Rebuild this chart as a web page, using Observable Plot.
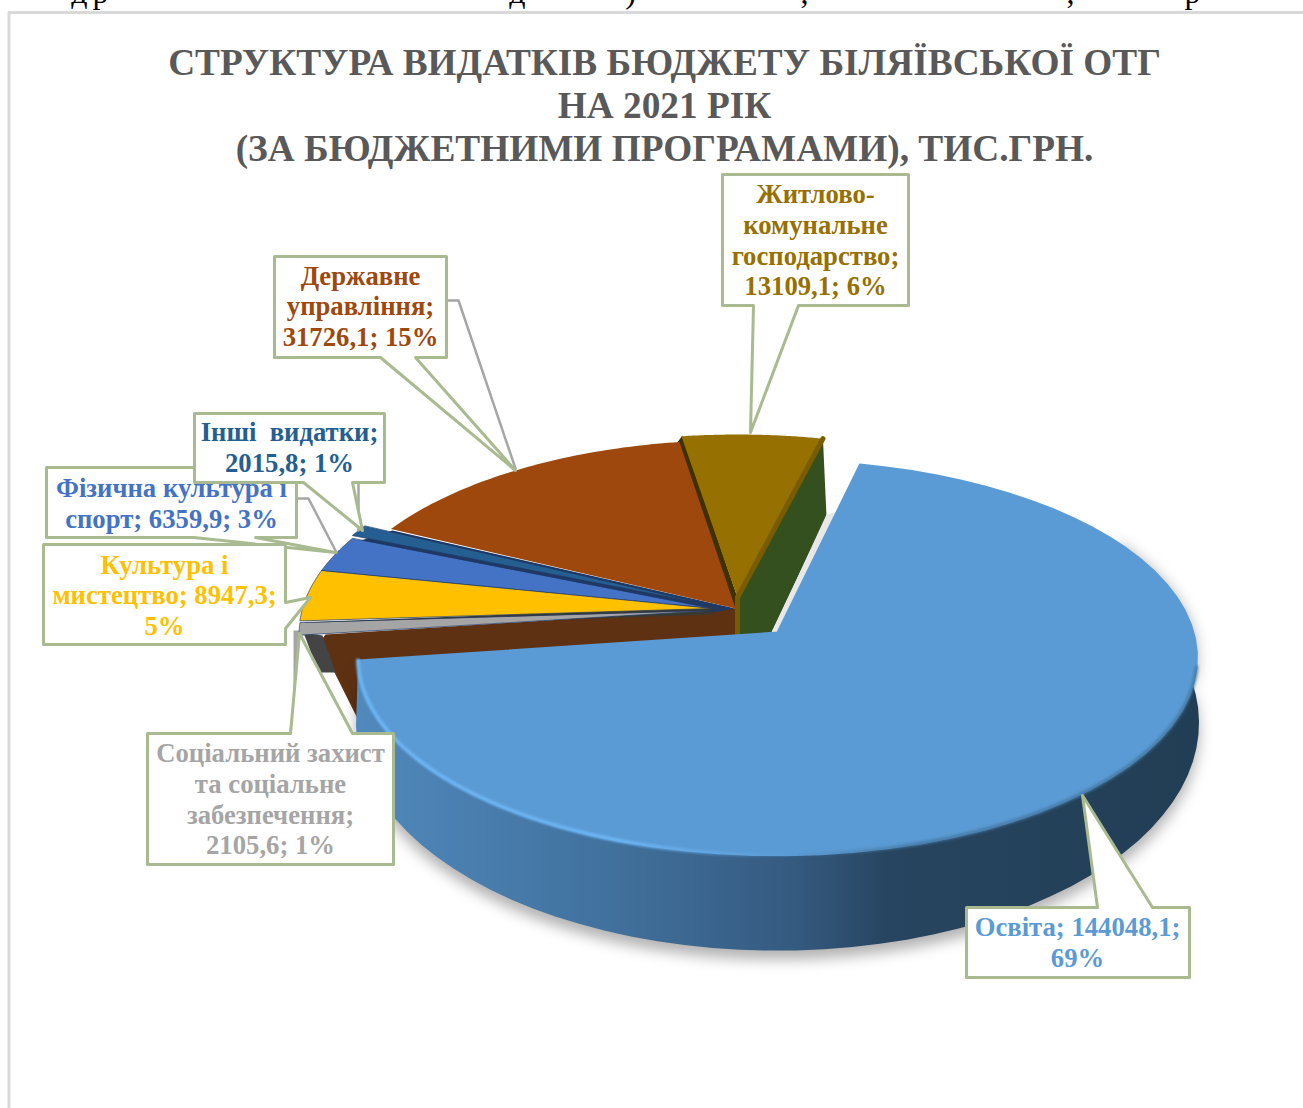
<!DOCTYPE html>
<html><head><meta charset="utf-8">
<script src="https://cdn.jsdelivr.net/npm/d3@7"></script>
<script src="https://cdn.jsdelivr.net/npm/@observablehq/plot@0.6"></script>
<style>html,body{margin:0;padding:0;background:#fff}svg{display:block}</style>
</head><body><div id="chart"></div>
<script>
// ---------- data ----------
const categories = ["Освіта","Соціальний захист\nта соціальне\nзабезпечення","Культура і\nмистецтво","Фізична культура і\nспорт","Інші  видатки","Державне\nуправління","Житлово-\nкомунальне\nгосподарство"];
const values = [144048.1, 2105.6, 8947.3, 6359.9, 2015.8, 31726.1, 13109.1];
const percents = [69, 1, 5, 3, 1, 15, 6];
const colors = ["#5b9bd5","#a5a5a5","#ffc000","#4472c4","#255e91","#9e480e","#967000"];
const nameSeps = ["; ",";\n","; ","; ",";\n",";\n",";\n"];
const valueSeps = [";\n","; ",";\n","; ","; ","; ","; "];
const titleLines = "СТРУКТУРА ВИДАТКІВ БЮДЖЕТУ БІЛЯЇВСЬКОЇ ОТГ\nНА 2021 РІК\n(ЗА БЮДЖЕТНИМИ ПРОГРАМАМИ), ТИС.ГРН.";

// ---------- layout (screen geometry of the 3D pie and its callouts) ----------
const pieStart = 12.9 * Math.PI / 180, perspective = 0.129;
const groupTurn = 0.8 * Math.PI / 180;
const sliceFrame = [
  {ax:777,ay:632,R:416,f:194,turn:0},
  {ax:712,ay:610,R:410,f:190,turn:groupTurn},
  {ax:712,ay:608,R:410,f:190,turn:groupTurn},
  {ax:712,ay:608,R:410,f:190,turn:groupTurn},
  {ax:712,ay:605,R:410,f:190,turn:groupTurn},
  {ax:735,ay:608,R:406,f:190,turn:groupTurn},
  {ax:737,ay:597,R:406,f:184,turn:groupTurn}
];
const baseFrame = {ax:777,ay:693,R:418,f:224,turn:0};
const callouts = [
  {cx:1077,cy:943,box:[966,907,1189,977],side:"top",ptr:[[1097,907],[1082,795],[1152,907]]},
  {cx:270,cy:800,box:[147,733,393,864],side:"top",ptr:[[290,733],[299,633],[352,733]]},
  {cx:164,cy:596,box:[43,544,285,644],side:"right",ptr:[[285,602],[310,597],[285,628]]},
  {cx:171,cy:504,box:[46,467,296,537],side:"bottom",ptr:[[255,537],[335,552],[193,537]]},
  {cx:289,cy:448,box:[194,413,384,482],side:"bottom",ptr:[[352,482],[362,530],[303,482]]},
  {cx:360,cy:307,box:[274,256,446,357],side:"bottom",ptr:[[415,357],[515,470],[380,357]]},
  {cx:815,cy:241,box:[722,174,908,305],side:"bottom",ptr:[[798,305],[750,432],[753,305]]}
];
const leaders = [
  [[446,300],[458,300],[515,468]],
  [[296,498],[308,498],[336,552]],
  [[358,482],[358,530]]
];
const cutText = [["д",79],["р",100],["д",517],[")",630],[",",804],[",",1070],["р",1192]];

// ---------- geometry derived from the values ----------
const arcs = d3.pie().value(d => d).sort(null).startAngle(pieStart).endAngle(pieStart + 2*Math.PI)(values);
function rim(fr, theta){
  const t = theta + fr.turn, u = Math.sin(t), v = -Math.cos(t), s = 1/(1 - perspective*v);
  return [fr.ax + fr.R*u*s, fr.ay + fr.f*v*s];
}
const arcPts = (fr,a,b) => d3.range(0,61).map(i => rim(fr, a+(b-a)*i/60));
const sector = i => [[sliceFrame[i].ax,sliceFrame[i].ay], ...arcPts(sliceFrame[i],arcs[i].startAngle,arcs[i].endAngle)];
const poly = (pts,o) => Plot.line(pts,{x:d=>d[0],y:d=>d[1],curve:"linear-closed",stroke:"none",...o});
const path = (pts,o) => Plot.line(pts,{x:d=>d[0],y:d=>d[1],fill:"none",...o});
const rad = d => d*Math.PI/180;

const osv = arcs[0];
const sideTop = arcPts(sliceFrame[0], rad(60), osv.endAngle);
const sideBase = arcPts(baseFrame, rad(60), osv.endAngle).reverse();
const wallStart = rim(sliceFrame[6], arcs[6].endAngle);
const labels = values.map((v,i)=>`${categories[i]}${nameSeps[i]}${String(v).replace(".",",")}${valueSeps[i]}${percents[i]}%`);

function outline(c){
  const [x1,y1,x2,y2]=c.box;
  if(c.side==="top") return [[x1,y1],...c.ptr,[x2,y1],[x2,y2],[x1,y2]];
  if(c.side==="right") return [[x1,y1],[x2,y1],...c.ptr,[x2,y2],[x1,y2]];
  return [[x1,y1],[x2,y1],[x2,y2],...c.ptr,[x1,y2]];
}
const calloutMarks = i => [
  poly(outline(callouts[i]),{fill:"#fff",stroke:"#a9ba90",strokeWidth:3}),
  Plot.text([labels[i]],{x:callouts[i].cx,y:callouts[i].cy,dy:-2,text:d=>d,fill:i===1?"#a5a5a5":colors[i],
    fontFamily:"Liberation Serif",fontWeight:"bold",fontSize:26.7,lineHeight:1.15,textAnchor:"middle",lineAnchor:"middle"})
];
const sectorOrder = [4,3,2,1,5,6];

const defs = () => d3.create("svg:defs").html(`
 <linearGradient id="blueSide" gradientUnits="userSpaceOnUse" x1="357" x2="1197" y1="0" y2="0">
  <stop offset="0" stop-color="#5089bd"/><stop offset=".3" stop-color="#41719d"/>
  <stop offset=".52" stop-color="#355a80"/><stop offset=".63" stop-color="#274560"/>
  <stop offset="1" stop-color="#223e55"/></linearGradient>
 <linearGradient id="blueGlow" gradientUnits="userSpaceOnUse" x1="357" x2="790" y1="0" y2="0">
  <stop offset="0" stop-color="#6cb4f2"/><stop offset=".6" stop-color="#6cb4f2"/>
  <stop offset="1" stop-color="#6cb4f2" stop-opacity="0"/></linearGradient>
 <linearGradient id="blueEdge" gradientUnits="userSpaceOnUse" x1="790" x2="1197" y1="0" y2="0">
  <stop offset="0" stop-color="#43779f" stop-opacity="0"/><stop offset=".3" stop-color="#43779f"/>
  <stop offset="1" stop-color="#43779f"/></linearGradient>`).node();

const chart = Plot.plot({
  width:1303,height:1108,margin:0,
  x:{domain:[0,1303],range:[0,1303],axis:null},
  y:{domain:[0,1108],range:[0,1108],axis:null},
  marks:[
    defs,
    Plot.text(cutText,{x:d=>d[1],y:0,text:d=>d[0],fontFamily:"Liberation Serif",fontSize:32,fill:"#000",lineAnchor:"bottom",dy:2}),
    path([[1303,12],[8.5,12],[8.5,1108]],{stroke:"#d9d9d9",strokeWidth:3}),
    Plot.text([titleLines],{x:664,y:104,text:d=>d,fill:"#595959",fontFamily:"Liberation Serif",fontWeight:"bold",fontSize:37.3,lineHeight:1.155,textAnchor:"middle",lineAnchor:"middle"}),

    // back walls and dark seams under the slices
    poly([wallStart,[826,516],[767,640],[737,640],[sliceFrame[6].ax,sliceFrame[6].ay]],{fill:"#35501f"}),
    poly([[319,642],[325,634],[735,608],[737,660],[358,720]],{fill:"#5f3113"}),
    poly([[303,632],[322,635],[335,672],[318,672]],{fill:"#444"}),
    poly([[293,630],[300,630],[296,690],[293,690]],{fill:"#a6a6a6"}),
    poly([[392,530],[735,608],[712,612],[354,542]],{fill:"#1f3864"}),
    poly([[304,622],[712,606],[712,614],[304,628]],{fill:"#3b3a30"}),
    poly([[682,435],[737,597],[735,610],[676,443]],{fill:"#3e3000"}),

    // top faces of the small slices
    ...sectorOrder.map(i => poly(sector(i),{fill:colors[i],stroke:i<5?"#1f3864":"none",strokeWidth:i<5?1:0,strokeOpacity:.7})),
    path([wallStart,[sliceFrame[6].ax,sliceFrame[6].ay]],{stroke:"#7a5c00",strokeWidth:5}),
    path([[sliceFrame[6].ax,sliceFrame[6].ay],[737,640]],{stroke:"#7a5c00",strokeWidth:5}),

    // the exploded slice: shadow, side, top
    poly([[826,514],[835,512],[785,640],[768,640]],{fill:"#e8e8e8"}),
    poly(sideBase.map(([x,y])=>[x,y+9]).concat(sideTop),{fill:"#000",fillOpacity:.3,imageFilter:"blur(7px)"}),
    poly([...sideTop,...sideBase],{fill:"url(#blueSide)"}),
    poly(sector(0),{fill:colors[0],stroke:colors[0],strokeWidth:2,strokeLinejoin:"round"}),
    path(arcPts(sliceFrame[0],rad(100),rad(180)),{stroke:"url(#blueEdge)",strokeWidth:3,imageFilter:"blur(1.5px)"}),
    path(arcPts(sliceFrame[0],rad(175),osv.endAngle),{stroke:"url(#blueGlow)",strokeWidth:4,imageFilter:"blur(.8px)"}),

    // callouts
    ...leaders.map(l => path(l,{stroke:"#a6a6a6",strokeWidth:2.5})),
    ...calloutMarks(3),...calloutMarks(4),...calloutMarks(2),...calloutMarks(5),...calloutMarks(6),...calloutMarks(1),...calloutMarks(0)
  ]
});
document.getElementById("chart").append(chart);
</script></body></html>
